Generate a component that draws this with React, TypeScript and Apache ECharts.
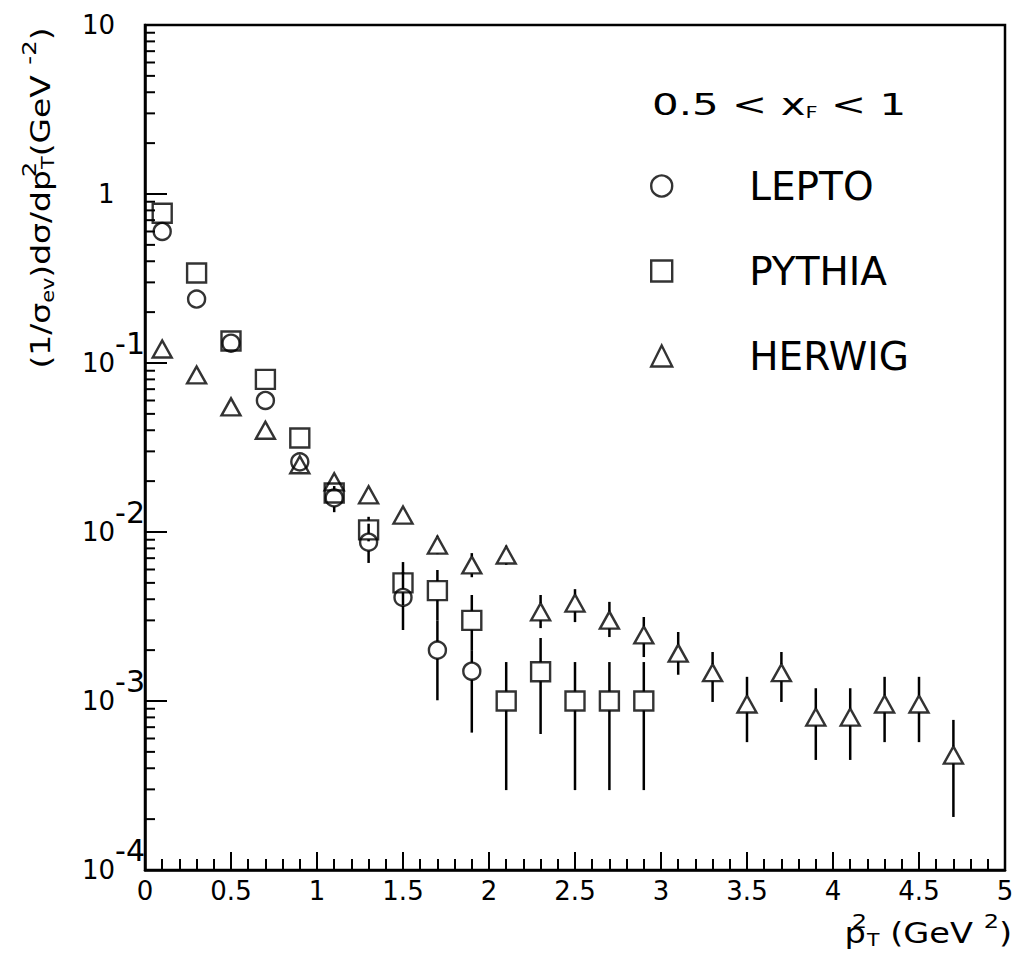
import React, { useEffect, useRef } from "react";
import * as echarts from "echarts";

const FONT = "DejaVu Sans";

// LEPTO (circles)
const leptoX = [0.1, 0.3, 0.5, 0.7, 0.9, 1.1, 1.3, 1.5, 1.7, 1.9];
const leptoY = [0.6, 0.239, 0.131, 0.06, 0.026, 0.0159, 0.0087, 0.0041, 0.002, 0.0015];
const leptoLo = [0.585, 0.233, 0.127, 0.058, 0.025, 0.0131, 0.00656, 0.00263, 0.00101, 0.00065];
const leptoHi = [0.615, 0.245, 0.135, 0.062, 0.027, 0.0187, 0.0112, 0.0058, 0.003, 0.002];

// PYTHIA (squares)
const pythiaX = [0.1, 0.3, 0.5, 0.7, 0.9, 1.1, 1.3, 1.5, 1.7, 1.9, 2.1, 2.3, 2.5, 2.7, 2.9];
const pythiaY = [0.77, 0.341, 0.135, 0.08, 0.036, 0.017, 0.0103, 0.005, 0.0045, 0.003, 0.001, 0.00149, 0.001, 0.001, 0.001];
const pythiaLo = [0.75, 0.333, 0.131, 0.078, 0.035, 0.0155, 0.0088, 0.0037, 0.003, 0.002, 0.000297, 0.000638, 0.000297, 0.000297, 0.000297];
const pythiaHi = [0.79, 0.349, 0.139, 0.082, 0.037, 0.0187, 0.0123, 0.00664, 0.00596, 0.00424, 0.0017, 0.00236, 0.0017, 0.0017, 0.0017];

// HERWIG (triangles)
const herwigX = [0.1, 0.3, 0.5, 0.7, 0.9, 1.1, 1.3, 1.5, 1.7, 1.9, 2.1, 2.3, 2.5, 2.7, 2.9, 3.1, 3.3, 3.5, 3.7, 3.9, 4.1, 4.3, 4.5, 4.7];
const herwigY = [0.121, 0.085, 0.055, 0.04, 0.025, 0.0198, 0.0166, 0.0126, 0.00837, 0.00638, 0.00731, 0.00337, 0.0038, 0.00301, 0.00246, 0.00192, 0.00147, 0.00096, 0.00147, 0.000803, 0.000803, 0.00096, 0.00096, 0.000479];
const herwigLo = [0.118, 0.083, 0.053, 0.039, 0.024, 0.019, 0.0158, 0.0118, 0.0074, 0.0054, 0.0064, 0.0027, 0.00293, 0.00239, 0.00182, 0.00143, 0.000987, 0.000571, 0.000987, 0.000448, 0.000448, 0.000571, 0.000571, 0.000206];
const herwigHi = [0.124, 0.087, 0.057, 0.041, 0.026, 0.0206, 0.0174, 0.0134, 0.0095, 0.0075, 0.0083, 0.00424, 0.00459, 0.00386, 0.00314, 0.00256, 0.00195, 0.00139, 0.00195, 0.00119, 0.00119, 0.00139, 0.00139, 0.000773];

const seriesNames = ["LEPTO", "PYTHIA", "HERWIG"];

// log-axis minor tick positions (mantissas within each decade)
const yDecades = [1e-4, 1e-3, 1e-2, 1e-1, 1];
const minorMantissas = [2, 3, 4, 5, 6, 7, 8, 9];

const pts = (xs: number[], ys: number[]) => xs.map((x, i) => [x, ys[i]]);
const errs = (xs: number[], ys: number[], lo: number[], hi: number[]) =>
  xs.map((x, i) => [x, lo[i], hi[i], ys[i]]);

const errRender = (half: number) => (_p: any, api: any) => {
  const x = api.value(0);
  const lo = api.value(1);
  const hi = api.value(2);
  const v = api.value(3);
  const c = api.coord([x, v]);
  const t = api.coord([x, hi]);
  const b = api.coord([x, lo]);
  const children: any[] = [];
  const st = { stroke: "#000", lineWidth: 2.5 };
  if (t[1] < c[1] - half) children.push({ type: "line", shape: { x1: c[0], y1: t[1], x2: c[0], y2: c[1] - half }, style: st });
  if (b[1] > c[1] + half) children.push({ type: "line", shape: { x1: c[0], y1: c[1] + half, x2: c[0], y2: b[1] }, style: st });
  return { type: "group", children };
};

const hollow = { color: "rgba(0,0,0,0)", borderColor: "#000", borderWidth: 2.4 };

// rich styles for raised / lowered tokens (base line 44px tall)
const titleRich = (base: number) => ({
  b: { fontSize: base, fontFamily: FONT, fill: "#000", lineHeight: 44 },
  sub: { fontSize: 17, fontFamily: FONT, fill: "#000", height: 30, lineHeight: 30, verticalAlign: "bottom" },
  sup: { fontSize: 20, fontFamily: FONT, fill: "#000", height: 20, lineHeight: 20, verticalAlign: "top" },
  sup0: { fontSize: 20, fontFamily: FONT, fill: "#000", height: 20, lineHeight: 20, verticalAlign: "top", width: 1 },
});

export default function App() {
  const ref = useRef<HTMLDivElement>(null);
  useEffect(() => {
    document.body.style.margin = "0";
    const chart = echarts.init(ref.current!, undefined, { renderer: "svg" });
    const minorTicks: number[][] = [];
    yDecades.forEach((d) => minorMantissas.forEach((m) => minorTicks.push([0, m * d])));

    const option: any = {
      animation: false,
      backgroundColor: "#fff",
      grid: {
        left: 145, right: 16, top: 25, bottom: 93,
        show: true, borderColor: "#000", borderWidth: 2.5,
        outerBoundsMode: "none",
      },
      xAxis: {
        type: "value", min: 0, max: 5, interval: 0.5,
        axisLine: { lineStyle: { color: "#000", width: 2.5 } },
        axisTick: { inside: true, length: 18, lineStyle: { color: "#000", width: 2 } },
        minorTick: { show: true, splitNumber: 5, length: 11, lineStyle: { color: "#000", width: 2 } },
        axisLabel: { color: "#000", fontSize: 26, fontFamily: FONT, margin: 8 },
        splitLine: { show: false },
      },
      yAxis: {
        type: "log", logBase: 10, min: 1e-4, max: 10,
        axisLine: { lineStyle: { color: "#000", width: 2.5 } },
        axisTick: { inside: true, length: 22, lineStyle: { color: "#000", width: 2 } },
        splitLine: { show: false },
        axisLabel: {
          color: "#000", align: "left", margin: 63, fontSize: 26, fontFamily: FONT,
          formatter: (v: number) => {
            const e = Math.round(Math.log10(v));
            if (e === 0) return "{one|1}";
            if (e === 1) return "{b|10}";
            return "{b|10}{ex|" + e + "}";
          },
          rich: {
            b: { fontSize: 26, fontFamily: FONT, color: "#000", lineHeight: 70 },
            one: { fontSize: 26, fontFamily: FONT, color: "#000", padding: [0, 0, 0, 16] },
            ex: { fontSize: 30, fontFamily: FONT, color: "#000", height: 30, lineHeight: 30, verticalAlign: "top" },
          },
        },
      },
      legend: {
        data: seriesNames,
        orient: "vertical",
        left: 645, top: 161,
        itemWidth: 21, itemHeight: 21, itemGap: 45,
        selectedMode: false,
        itemStyle: { color: "rgba(0,0,0,0)", borderColor: "#000", borderWidth: 2.4 },
        textStyle: { fontFamily: FONT, fontSize: 39, color: "#000", lineHeight: 40, padding: [0, 0, 0, 72] },
      },
      graphic: [
        {
          type: "text", x: 41, y: 198, rotation: Math.PI / 2, scaleX: 1.22,
          style: {
            text: "{b|(1/σ}{sub|ev}{b|)dσ/dp}{sup0|2}{sub|T}{b|(GeV }{sup|-2}{b|)}",
            align: "center", verticalAlign: "middle", fill: "#000", fontFamily: FONT, fontSize: 27,
            rich: titleRich(27),
          },
        },
        {
          type: "text", x: 1012, y: 933, scaleX: 1.2,
          style: {
            text: "{b|p}{sup0|2}{sub|T}{b| (GeV }{sup|2}{b|)}",
            align: "right", verticalAlign: "middle", fill: "#000", fontFamily: FONT, fontSize: 28,
            rich: titleRich(28),
          },
        },
        {
          type: "text", x: 652, y: 105, scaleX: 1.4,
          style: {
            text: "{b|0.5 < x}{sub|F}{b| < 1}",
            align: "left", verticalAlign: "middle", fill: "#000", fontFamily: FONT, fontSize: 30,
            rich: {
              b: { fontSize: 30, fontFamily: FONT, fill: "#000", lineHeight: 40 },
              sub: { fontSize: 15, fontFamily: FONT, fill: "#000", height: 24, lineHeight: 24, verticalAlign: "bottom" },
            },
          },
        },
      ],
      series: [
        {
          name: "y-minor-ticks", type: "custom", silent: true, data: minorTicks, z: 3,
          renderItem: (_p: any, api: any) => {
            const c = api.coord([0, api.value(1)]);
            return { type: "line", shape: { x1: c[0], y1: c[1], x2: c[0] + 10, y2: c[1] }, style: { stroke: "#000", lineWidth: 2 } };
          },
        },
        { name: "LEPTO-err", type: "custom", silent: true, data: errs(leptoX, leptoY, leptoLo, leptoHi), renderItem: errRender(8.5) },
        { name: "PYTHIA-err", type: "custom", silent: true, data: errs(pythiaX, pythiaY, pythiaLo, pythiaHi), renderItem: errRender(9.5) },
        { name: "HERWIG-err", type: "custom", silent: true, data: errs(herwigX, herwigY, herwigLo, herwigHi), renderItem: errRender(8.5) },
        { name: "LEPTO", type: "scatter", symbol: "circle", symbolSize: 17, itemStyle: hollow, data: pts(leptoX, leptoY) },
        { name: "PYTHIA", type: "scatter", symbol: "rect", symbolSize: 19, itemStyle: hollow, data: pts(pythiaX, pythiaY) },
        { name: "HERWIG", type: "scatter", symbol: "triangle", symbolSize: [19, 17], itemStyle: hollow, data: pts(herwigX, herwigY) },
      ],
    };
    chart.setOption(option);
    return () => chart.dispose();
  }, []);
  return <div ref={ref} style={{ width: 1021, height: 963 }} />;
}
